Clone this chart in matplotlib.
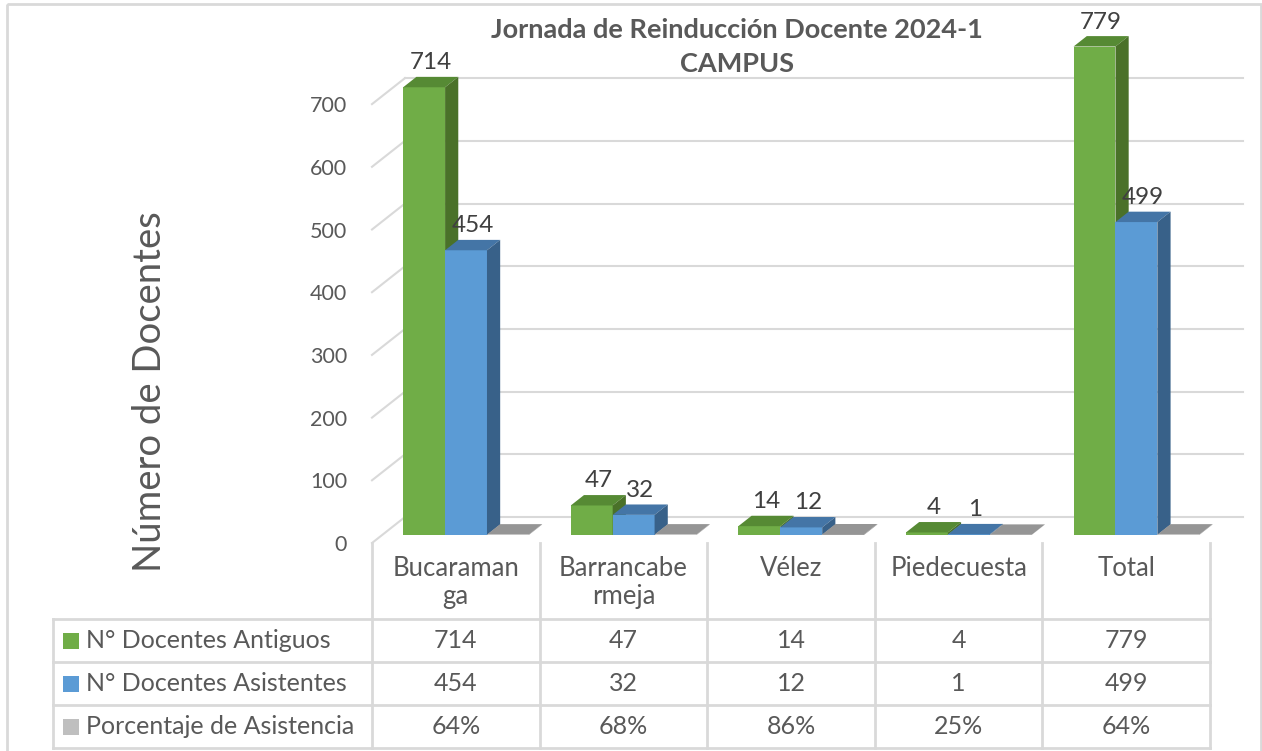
import matplotlib
matplotlib.use("Agg")
import matplotlib.pyplot as plt
from matplotlib.patches import Polygon, Rectangle
from matplotlib.lines import Line2D

plt.rcParams['font.family'] = ['Lato', 'DejaVu Sans']

# ---------------- data ----------------
categories = ["Bucaramanga", "Barrancabermeja", "Vélez", "Piedecuesta", "Total"]
cat_labels = ["Bucaraman\nga", "Barrancabe\nrmeja", "Vélez", "Piedecuesta", "Total"]
antiguos = [714, 47, 14, 4, 779]
asistentes = [454, 32, 12, 1, 499]
porcentaje = [64, 68, 86, 25, 64]          # percent
series_names = ["N° Docentes Antiguos", "N° Docentes Asistentes", "Porcentaje de Asistencia"]
yticks = [0, 100, 200, 300, 400, 500, 600, 700]
title_lines = ["Jornada de Reinducción Docente 2024-1", "CAMPUS"]
ylabel = "Número de Docentes"

# ---------------- style ----------------
W, H = 1262, 751
front = ["#70AD47", "#5B9BD5", "#A5A5A5"]
top_c = ["#568A34", "#4475A6", "#959595"]
side_c = ["#4A7129", "#386189", "#8A8A8A"]
grid_c = "#D9D9D9"
txt_c = "#595959"

fig = plt.figure(figsize=(W / 100, H / 100), dpi=100)

# main plot axes: x in category units, y in value units (front label plane)
px_per_unit = 0.627
x_left, x_right = 372, 1210
y_zero = 543
ymax = 800
ax = fig.add_axes([x_left / W, (H - y_zero) / H, (x_right - x_left) / W,
                   (ymax * px_per_unit) / H])
ax.set_xlim(-0.5, 4.5)
ax.set_ylim(0, ymax)
for s in ax.spines.values():
    s.set_visible(False)
ax.set_xticks([])
ax.set_yticks(yticks)
ax.set_yticklabels([str(t) for t in yticks])
ax.tick_params(axis='y', length=0, pad=18, labelsize=15.5, labelcolor=txt_c)
ax.patch.set_alpha(0)

col_px = (x_right - x_left) / 5.0
DX = 33 / col_px            # depth offset (x units) of back wall
DY = 26 / px_per_unit       # depth offset (value units) of back wall


def P(x, v, z):
    return (x + z * DX, v + z * DY)


# back wall gridlines and left wall diagonals
for t in yticks:
    a = P(-0.5, t, 1)
    b = P(4.5, t, 1)
    ax.add_line(Line2D([a[0], b[0]], [a[1], b[1]], color=grid_c, lw=1.5,
                       zorder=1, clip_on=False))
    c = P(-0.5, t, 0)
    ax.add_line(Line2D([c[0], a[0]], [c[1], a[1]], color=grid_c, lw=1.5,
                       zorder=1, clip_on=False))

zf, zb = 0.31, 0.71
bw = 0.25
series_vals = [antiguos, asistentes, [p / 100 for p in porcentaje]]

z = 2
for i in range(len(categories)):
    for s, vals in enumerate(series_vals):
        v = vals[i]
        x0 = i - 0.375 + s * bw
        x1 = x0 + bw
        # front face via bar
        fx, fy = P(x0, 0, zf)
        ax.bar(fx, v, width=bw, bottom=fy, align='edge', color=front[s],
               edgecolor='none', zorder=z, clip_on=False)
        # top face
        top = [P(x0, v, zf), P(x1, v, zf), P(x1, v, zb), P(x0, v, zb)]
        ax.add_patch(Polygon(top, closed=True, facecolor=top_c[s],
                             edgecolor='none', zorder=z + 0.1, clip_on=False))
        # side face
        side = [P(x1, 0, zf), P(x1, v, zf), P(x1, v, zb), P(x1, 0, zb)]
        ax.add_patch(Polygon(side, closed=True, facecolor=side_c[s],
                             edgecolor='none', zorder=z + 0.1, clip_on=False))
        z += 0.3
        if s < 2:
            lx, ly = P(x0 + bw / 2, v, (zf + zb) / 2)
            ax.text(lx, ly + 14, str(v), ha='center', va='bottom',
                    fontsize=17.5, color="#404040", zorder=20)

# ---------------- overlay (frame, title, table) ----------------
ov = fig.add_axes([0, 0, 1, 1])
ov.set_xlim(0, W)
ov.set_ylim(H, 0)
ov.axis('off')
ov.patch.set_alpha(0)

# outer frame
ov.add_patch(Rectangle((7, 4), 1254, 760, fill=False, edgecolor=grid_c, lw=2))

# title
ov.text(737, 30, title_lines[0], ha='center', va='center', fontsize=19.5,
        fontweight='bold', color=txt_c)
ov.text(737, 64, title_lines[1], ha='center', va='center', fontsize=19.5,
        fontweight='bold', color=txt_c)

# y label
ov.text(150, 392, ylabel, rotation=90, ha='center', va='center',
        fontsize=27.5, color=txt_c)

# table
col_edges = [x_left + k * col_px for k in range(6)]
row_edges = [619, 662, 705, 748]
tbl_left = 53
lc = "#D9D9D9"
for xe in col_edges:
    ov.add_line(Line2D([xe, xe], [y_zero, row_edges[-1]], color=lc, lw=2))
ov.add_line(Line2D([tbl_left, tbl_left], [row_edges[0], row_edges[-1]], color=lc, lw=2))
for ye in row_edges:
    ov.add_line(Line2D([tbl_left, col_edges[-1]], [ye, ye], color=lc, lw=2))

for i, lab in enumerate(cat_labels):
    cx = (col_edges[i] + col_edges[i + 1]) / 2
    ov.text(cx, 556, lab, ha='center', va='top', fontsize=18.5, color=txt_c,
            linespacing=1.15)

row_text = [[str(v) for v in antiguos], [str(v) for v in asistentes],
            [f"{p}%" for p in porcentaje]]
legend_sw = ["#70AD47", "#5B9BD5", "#BFBFBF"]
for r in range(3):
    cy = (row_edges[r] + row_edges[r + 1]) / 2
    ov.add_patch(Rectangle((63, cy - 8), 16, 16, facecolor=legend_sw[r],
                           edgecolor='none'))
    ov.text(86, cy, series_names[r], ha='left', va='center', fontsize=18,
            color=txt_c)
    for i in range(5):
        cx = (col_edges[i] + col_edges[i + 1]) / 2
        ov.text(cx, cy, row_text[r][i], ha='center', va='center', fontsize=18,
                color=txt_c)

fig.savefig("out.png", dpi=100)
